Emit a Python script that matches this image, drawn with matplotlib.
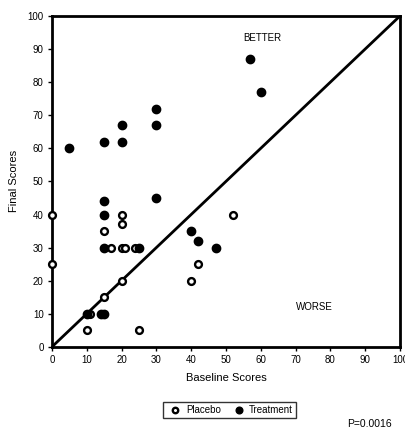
import matplotlib
matplotlib.use('Agg')
import matplotlib.pyplot as plt

plt.rcParams['font.family'] = ['Liberation Sans', 'DejaVu Sans']

# baseline / final scores
placebo_x = [0, 0, 15, 20, 20, 17, 20, 21, 24, 20, 15, 11, 10, 25, 40, 42, 52]
placebo_y = [40, 25, 35, 40, 37, 30, 30, 30, 30, 20, 15, 10, 5, 5, 20, 25, 40]

treat_x = [5, 15, 20, 20, 30, 30, 57, 60, 15, 15, 15, 30, 25, 10, 14, 15, 40, 42, 47]
treat_y = [60, 62, 62, 67, 67, 72, 87, 77, 44, 40, 30, 45, 30, 10, 10, 10, 35, 32, 30]

ticks = list(range(0, 101, 10))

fig = plt.figure(figsize=(4.06, 4.33), dpi=100)
ax = fig.add_axes([0.128, 0.199, 0.857, 0.764])

ax.plot([0, 100], [0, 100], color='black', lw=2, zorder=1)
ax.scatter(placebo_x, placebo_y, s=24, facecolors='white', edgecolors='black',
           linewidths=1.7, zorder=3, label='Placebo', clip_on=False)
ax.scatter(treat_x, treat_y, s=36, color='black', zorder=4, label='Treatment',
           clip_on=False)

ax.set_xlim(0, 100)
ax.set_ylim(0, 100)
ax.set_xticks(ticks)
ax.set_yticks(ticks)
ax.tick_params(direction='out', length=3, width=1, labelsize=7, pad=3)
for s in ax.spines.values():
    s.set_linewidth(2)

ax.set_xlabel('Baseline Scores', fontsize=8, labelpad=6)
ax.set_ylabel('Final Scores', fontsize=8, labelpad=6)

ax.text(60.5, 93.5, 'BETTER', fontsize=7, ha='center', va='center')
ax.text(75.5, 12, 'WORSE', fontsize=7, ha='center', va='center')

fig.legend(loc='center', bbox_to_anchor=(0.565, 0.053), ncol=2, fontsize=7,
           frameon=True, fancybox=False, edgecolor='black', handletextpad=0.1,
           columnspacing=0.8, borderpad=0.3, markerscale=0.8)
fig.text(0.91, 0.02, 'P=0.0016', fontsize=7.5, ha='center', va='center')

fig.savefig('out.png', dpi=100)
